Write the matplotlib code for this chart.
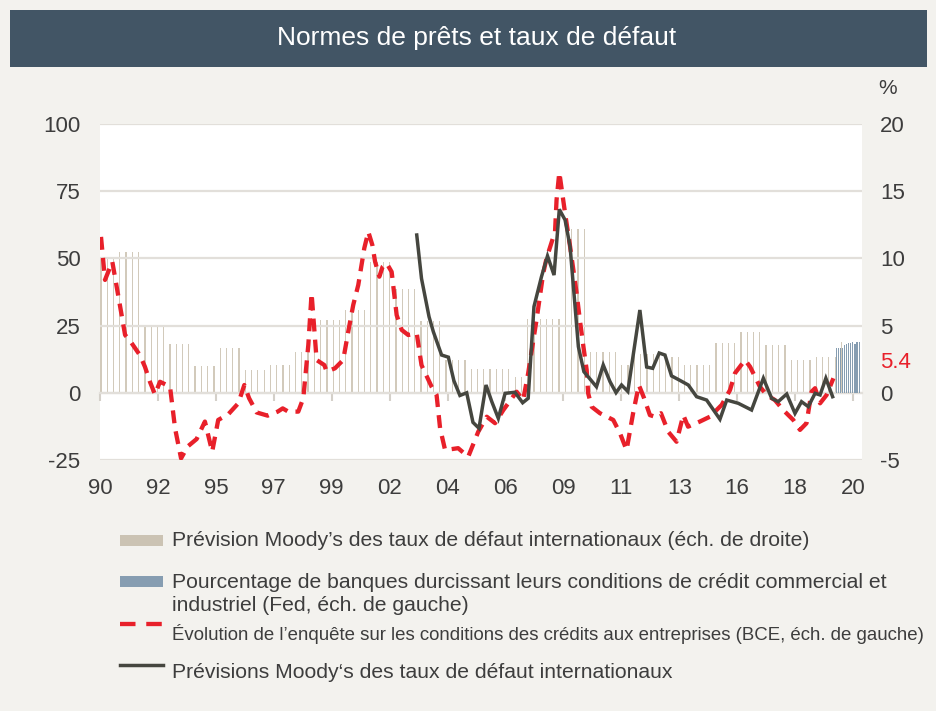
import numpy as np
import matplotlib.pyplot as plt
from matplotlib.patches import Rectangle
from matplotlib.lines import Line2D


# ECB bank lending survey, credit standards for enterprises (left scale)
bce_years = [1990.04, 1990.20, 1990.49, 1991.00, 1991.20, 1991.59, 1991.79, 1991.99,
             1992.19, 1992.39, 1992.79, 1992.99, 1993.23, 1993.49, 1993.85, 1994.18,
             1994.47, 1994.71, 1995.11, 1995.51, 1995.75, 1995.94, 1996.24, 1996.68,
             1997.08, 1997.28, 1997.50, 1997.90, 1998.10, 1998.30, 1998.43, 1998.63,
             1998.94, 1999.03, 1999.36, 1999.69, 1999.89, 2000.09, 2000.29, 2000.53,
             2000.69, 2000.85, 2000.96, 2001.13, 2001.26, 2001.42, 2001.62, 2001.82,
             2002.02, 2002.28, 2002.62, 2002.81, 2003.21, 2003.41, 2003.55, 2003.75,
             2004.27, 2004.67, 2005.07, 2005.41, 2005.74, 2006.07, 2006.60, 2006.86,
             2007.06, 2007.39, 2007.66, 2007.79, 2008.13, 2008.19, 2008.30, 2008.53,
             2008.73, 2008.99, 2009.12, 2009.26, 2009.39, 2009.45, 2009.59, 2009.92,
             2010.45, 2010.72, 2010.98, 2011.24, 2011.47, 2011.67, 2011.91, 2012.11,
             2012.35, 2012.64, 2012.97, 2013.24, 2013.43, 2013.90, 2014.30, 2014.77,
             2015.10, 2015.30, 2015.70, 2015.90, 2016.16, 2016.29, 2016.56, 2016.89,
             2017.22, 2017.62, 2017.89, 2018.15, 2018.35, 2018.49, 2018.69, 2018.95,
             2019.22]
bce_values = [58, 42, 48.8, 21.5, 19.3, 14, 9.7, 4.1,
              -0.6, 4.1, 2.3, -13.2, -24.4, -20, -17.2, -10.7,
              -21.9, -10.1, -8, -3.9, 2.9, -2, -7.3, -8.5,
              -7, -5.8, -7, -7, -2, 17.8, 37, 12.2,
              10.3, 7.9, 9.1, 12.2, 22.7, 32.7, 40.1, 53.8,
              59.9, 55, 48.8, 43.2, 46.9, 48.2, 45, 28.9,
              23.4, 21.5, 22.1, 10.3, 2.3, -0.8, -13.2, -21.3,
              -20.6, -23.8, -14.5, -8.9, -11.3, -6.4, 0.4, -2.7,
              7.3, 27, 44.5, 50, 60, 71.7, 82, 66.8,
              54.4, 37, 27, 17.2, 8.5, -0.2, -5.2, -7.6,
              -10.1, -15.1, -21.3, -7.6, 2.9, -1.8, -8.3, -8.9,
              -7.6, -14.5, -18.2, -8.3, -12.6, -10.7, -8.9, -4.5,
              1, 7.3, 12.2, 9.7, 4.8, 2.3, -0.8, -2.7,
              -6.4, -10.1, -13.8, -11.3, 0.4, 1.7, -3.9, -0.8,
              5.4]

# Moody's global default rate forecasts, line (right scale)
moody_years = [2002.62, 2002.81, 2003.11, 2003.28, 2003.61, 2003.88, 2004.10, 2004.34,
               2004.61, 2004.86, 2005.10, 2005.38, 2005.61, 2005.87, 2006.14, 2006.53,
               2006.84, 2007.06, 2007.29, 2007.59, 2007.83, 2008.09, 2008.30, 2008.53,
               2008.73, 2009.06, 2009.28, 2009.78, 2010.05, 2010.32, 2010.56, 2010.78,
               2011.03, 2011.51, 2011.78, 2012.02, 2012.28, 2012.51, 2012.77, 2013.08,
               2013.44, 2013.77, 2014.17, 2014.70, 2014.97, 2015.43, 2015.96, 2016.43,
               2016.76, 2017.02, 2017.36, 2017.69, 2017.95, 2018.22, 2018.49, 2018.69,
               2018.92, 2019.19]
moody_values = [11.74, 8.5, 5.66, 4.55, 2.81, 2.65, 0.9, -0.2,
                0.0, -2.2, -2.64, 0.58, -0.66, -1.9, -0.04, 0.04,
                -0.74, -0.41, 6.41, 8.64, 10.18, 8.76, 13.65, 12.86,
                10.87, 3.43, 1.57, 0.45, 2.07, 0.83, 0.01, 0.58,
                0.1, 6.16, 1.92, 1.82, 2.96, 2.81, 1.26, 0.95,
                0.58, -0.29, -0.54, -1.97, -0.54, -0.78, -1.28, 1.08,
                -0.41, -0.66, -0.09, -1.53, -0.66, -1.03, -0.04, -0.16,
                1.08, -0.29]

# Moody's forecast bars, quarterly from 1990Q1, as runs of equal values (right scale)
forecast_run_lengths = [3, 4, 4, 4, 4, 4, 4, 4, 4, 4, 4, 4, 4, 4, 4,
                        7, 2, 6, 4, 5, 2, 5, 3, 5, 4, 4, 4, 4, 4, 1]
forecast_run_values = [10.0, 10.5, 5.0, 3.6, 2.0, 3.33, 1.67, 2.05, 3.06, 5.4, 6.16, 9.75, 7.72, 5.37, 2.44,
                       1.75, 1.2, 5.5, 12.2, 3.03, 2.05, 2.85, 2.64, 2.05, 3.73, 4.55, 3.56, 2.44, 2.66, 3.8]

# Fed senior loan officer survey, monthly from mid-2019 (left scale)
fed_values = [16.5, 16.5, 16.5, 16.7, 17.8, 18.2, 18.6, 18.6, 18.9, 18.3, 18.8, 19.0]

x_labels = ["90", "92", "95", "97", "99", "02", "04", "06", "09", "11", "13", "16", "18", "20"]
left_ticks = [-25, 0, 25, 50, 75, 100]
right_ticks = [-5, 0, 5, 10, 15, 20]

legend_labels = [
    "Prévision Moody\u2019s des taux de défaut internationaux (éch. de droite)",
    "Pourcentage de banques durcissant leurs conditions de crédit commercial et\nindustriel (Fed, éch. de gauche)",
    "Évolution de l\u2019enquête sur les conditions des crédits aux entreprises (BCE, éch. de gauche)",
    "Prévisions Moody\u2018s des taux de défaut internationaux",
]

BG = "#f3f2ee"
BANNER = "#425565"
GRID = "#e2dfda"
BEIGE = "#d2cabb"
BEIGE_PATCH = "#cbc3b3"
BLUE = "#869db1"
RED = "#e8202a"
DARK = "#45463f"
TEXT = "#3d3d3d"

plt.rcParams["font.family"] = ["Liberation Sans", "DejaVu Sans"]
plt.rcParams["axes.unicode_minus"] = False

W, H = 937, 711
fig = plt.figure(figsize=(W / 100, H / 100), dpi=100, facecolor=BG)

# title banner
fig.patches.append(Rectangle((10 / W, 1 - 67 / H), 917 / W, 57 / H,
                             transform=fig.transFigure, facecolor=BANNER, edgecolor="none"))
fig.text(477 / W, 1 - 38 / H, "Normes de prêts et taux de défaut", color="white",
         fontsize=19, ha="center", va="center")

ax = fig.add_axes([100 / W, 1 - 460 / H, 762 / W, 336 / H])
ax2 = ax.twinx()
ax.set_zorder(ax2.get_zorder() + 1)
ax.patch.set_visible(False)
ax2.patch.set_visible(True)
ax2.patch.set_facecolor("white")

# quarterly forecast bars
forecast = np.repeat(forecast_run_values, forecast_run_lengths)
q_years = 1990.04 + 0.25 * np.arange(len(forecast))
ax2.bar(q_years, forecast, width=0.05, color=BEIGE, linewidth=0)

# monthly Fed bars
m_years = 2019.33 + np.arange(len(fed_values)) / 12
ax.bar(m_years, fed_values, width=0.045, color=BLUE, linewidth=0, zorder=2)

ax.plot(bce_years, bce_values, color=RED, lw=3.1, dashes=(3, 1.9), zorder=3)
ax.plot(moody_years, moody_values, color=DARK, lw=2.5, zorder=4,
        transform=ax2.transData, solid_joinstyle="miter")

ax.set_xlim(1990, 2020.36)
ax.set_ylim(-25, 100)
ax2.set_ylim(-5, 20)

x_ticks = np.linspace(1990, 2020, len(x_labels))
ax.set_xticks(x_ticks)
ax.set_xticklabels(x_labels)
ax.set_yticks(left_ticks)
ax2.set_yticks(right_ticks)

ax.yaxis.grid(True, color=GRID, lw=1.6)
ax.set_axisbelow(True)
for a in (ax, ax2):
    for s in a.spines.values():
        s.set_visible(False)
ax.tick_params(axis="y", length=0, pad=14, labelsize=16, labelcolor=TEXT)
ax2.tick_params(axis="y", length=0, pad=13, labelsize=16, labelcolor=TEXT)
ax.tick_params(axis="x", length=0, pad=13, labelsize=16, labelcolor=TEXT)

# small tick marks hanging from the zero line
zero_axis = ax.secondary_xaxis(25 / 125)
zero_axis.set_xticks(x_ticks)
zero_axis.set_xticklabels([])
zero_axis.tick_params(length=6, width=1.5, color="#d4d0c9", direction="out")
zero_axis.spines["bottom"].set_color(GRID)
zero_axis.spines["bottom"].set_linewidth(1.6)

ax.text((888 - 100) / 762, (460 - 88) / 336, "%", transform=ax.transAxes,
        fontsize=15, color=TEXT, ha="center", va="center")
ax.text((880 - 100) / 762, (460 - 362) / 336, f"{bce_values[-1]:.1f}", transform=ax.transAxes,
        fontsize=16, color=RED, ha="left", va="center")

# legend, drawn by hand to keep the uneven spacing
x0, x1, tx = 120 / W, 163 / W, 172 / W
fig.patches.append(Rectangle((x0, 1 - 546 / H), x1 - x0, 11 / H, transform=fig.transFigure,
                             facecolor=BEIGE_PATCH, edgecolor="none"))
fig.text(tx, 1 - 541 / H, legend_labels[0], fontsize=15.2, color=TEXT, va="center")

fig.patches.append(Rectangle((x0, 1 - 587 / H), x1 - x0, 11 / H, transform=fig.transFigure,
                             facecolor=BLUE, edgecolor="none"))
fig.text(tx, 1 - 594 / H, legend_labels[1], fontsize=15.2, color=TEXT, va="center",
         linespacing=1.3)

fig.lines.append(Line2D([x0, x1], [1 - 624 / H] * 2, transform=fig.transFigure,
                        color=RED, lw=3.1, dashes=(3.6, 2.5)))
fig.text(tx, 1 - 634 / H, legend_labels[2], fontsize=13.4, color=TEXT, va="center")

fig.lines.append(Line2D([x0, x1], [1 - 665 / H] * 2, transform=fig.transFigure,
                        color=DARK, lw=2.5))
fig.text(tx, 1 - 673 / H, legend_labels[3], fontsize=15.2, color=TEXT, va="center")

fig.savefig("out.png", dpi=100, facecolor=BG)
